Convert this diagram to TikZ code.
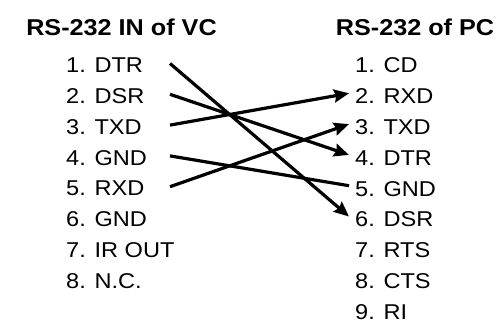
\documentclass[tikz,border=0pt]{standalone}
\usepackage{fontspec}
\setmainfont{Liberation Sans}[FakeStretch=1.1]
\usetikzlibrary{arrows.meta}

\tikzset{
  pinlabel/.style={anchor=west,inner sep=0pt,font=\fontsize{21.5}{24}\selectfont},
  conntitle/.style={inner sep=0pt,font=\bfseries\fontsize{23}{26}\selectfont},
  line/.style={line width=3.2bp},
  wire/.style={line,-{Stealth[length=15bp,width=13bp,inset=2bp]}}
}

\begin{document}
\begin{tikzpicture}[x=1bp,y=-1bp]
    \useasboundingbox (0,0) rectangle (501,324);

    \node[conntitle] (vc) at (121.5,27) {RS-232 IN of VC};
    \node[conntitle] (pc) at (415,27) {RS-232 of PC};

    % pins of the VC side
    \foreach \i/\sig in {1/DTR,2/DSR,3/TXD,4/GND,5/RXD,6/GND,7/IR OUT,8/N.C.}{
      \node[pinlabel] (l\i) at (66,34.7+30.8*\i) {\i. \sig};
      \coordinate (a\i) at (170,32.7+30.8*\i);
    }
    % pins of the PC side
    \foreach \i/\sig in {1/CD,2/RXD,3/TXD,4/DTR,5/GND,6/DSR,7/RTS,8/CTS,9/RI}{
      \node[pinlabel] (r\i) at (355,34.7+30.8*\i) {\i. \sig};
      \coordinate (b\i) at (349,31.7+30.8*\i);
    }

    \draw[wire] (a1) -- (b6);
    \draw[wire] (a2) -- (b4);
    \draw[wire] (a3) -- (b2);
    \draw[line] (a4) -- (b5);
    \draw[wire] (a5) -- (b3);

\end{tikzpicture}
\end{document}
